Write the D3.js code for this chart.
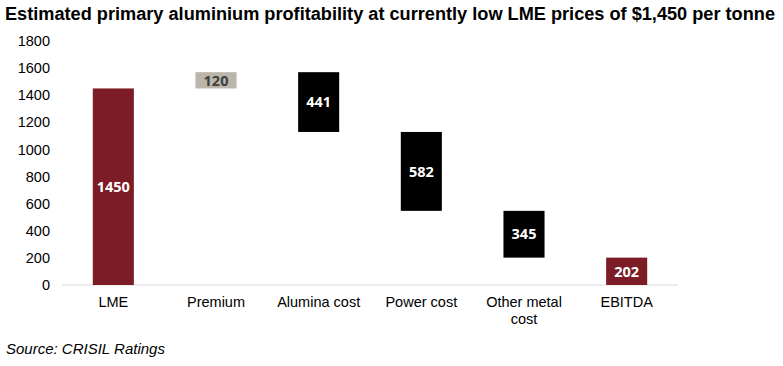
<!DOCTYPE html>
<html>
<head>
<meta charset="utf-8">
<script src="https://cdn.jsdelivr.net/npm/d3@7"></script>
<style>
  body { margin: 0; background: #fff; }
  text { font-family: "Liberation Sans", Arial, sans-serif; }
</style>
</head>
<body>
<div id="chart"></div>
<script>
// Waterfall data
const categories = ['LME', 'Premium', 'Alumina cost', 'Power cost', 'Other metal cost', 'EBITDA'];
const values = [1450, 120, 441, 582, 345, 202];
const kinds = ['total', 'up', 'down', 'down', 'down', 'total'];
const yTicks = [0, 200, 400, 600, 800, 1000, 1200, 1400, 1600, 1800];

const colors = { total: '#7b1c27', up: '#bcb5a9', down: '#000000' };
const labelColors = { total: '#ffffff', up: '#404040', down: '#ffffff' };

const width = 783;
const height = 366;

const svg = d3.select('#chart')
  .append('svg')
  .attr('width', width)
  .attr('height', height);

// running total for the floating bars
let running = 0;
const bars = categories.map((c, i) => {
  let lo, hi;
  if (kinds[i] === 'total') {
    lo = 0; hi = values[i]; running = values[i];
  } else if (kinds[i] === 'up') {
    lo = running; hi = running + values[i]; running = hi;
  } else {
    hi = running; lo = running - values[i]; running = lo;
  }
  return { category: c, value: values[i], kind: kinds[i], lo, hi };
});

const xScale = d3.scaleBand()
  .domain(categories)
  .range([62, 678])
  .paddingInner(0.6)
  .paddingOuter(0.3);

const yScale = d3.scaleLinear().domain([0, 1800]).range([285, 41]);

// title
svg.append('text')
  .attr('x', 5)
  .attr('y', 20)
  .attr('font-size', 18)
  .attr('font-weight', 'bold')
  .attr('fill', '#000')
  .attr('textLength', 770)
  .attr('lengthAdjust', 'spacingAndGlyphs')
  .text('Estimated primary aluminium profitability at currently low LME prices of $1,450 per tonne');

// y axis (labels only)
const yAxis = d3.axisLeft(yScale).tickValues(yTicks).tickFormat(d3.format('d')).tickSize(0).tickPadding(0);
const yAxisGroup = svg.append('g')
  .attr('transform', 'translate(50,0)')
  .call(yAxis);
yAxisGroup.select('.domain').remove();
yAxisGroup.selectAll('text')
  .attr('font-size', 14.5)
  .attr('fill', '#000')
  .style('font-family', '"Liberation Sans", Arial, sans-serif');

// baseline
svg.append('line')
  .attr('x1', 62).attr('x2', 678)
  .attr('y1', yScale(0)).attr('y2', yScale(0))
  .attr('stroke', '#d9d9d9')
  .attr('stroke-width', 1);

// bars
svg.selectAll('rect.bar')
  .data(bars)
  .enter()
  .append('rect')
  .attr('class', 'bar')
  .attr('x', (d) => xScale(d.category))
  .attr('width', xScale.bandwidth())
  .attr('y', (d) => yScale(d.hi))
  .attr('height', (d) => yScale(d.lo) - yScale(d.hi))
  .attr('fill', (d) => colors[d.kind]);

// value labels
svg.selectAll('text.value')
  .data(bars)
  .enter()
  .append('text')
  .attr('class', 'value')
  .attr('x', (d) => xScale(d.category) + xScale.bandwidth() / 2)
  .attr('y', (d) => (yScale(d.lo) + yScale(d.hi)) / 2)
  .attr('dy', '0.36em')
  .attr('text-anchor', 'middle')
  .attr('font-size', 14.5)
  .attr('font-weight', 'bold')
  .style('font-family', '"Open Sans", "DejaVu Sans", sans-serif')
  .attr('fill', (d) => labelColors[d.kind])
  .text((d) => d.value);

// category labels, wrapped
const xAxisGroup = svg.append('g');
categories.forEach((c) => {
  const lines = c === 'Other metal cost' ? ['Other metal', 'cost'] : [c];
  const t = xAxisGroup.append('text')
    .attr('x', xScale(c) + xScale.bandwidth() / 2)
    .attr('y', 307)
    .attr('text-anchor', 'middle')
    .attr('font-size', 14.5)
    .attr('fill', '#000');
  lines.forEach((l, j) => {
    t.append('tspan')
      .attr('x', xScale(c) + xScale.bandwidth() / 2)
      .attr('dy', j === 0 ? 0 : 17)
      .text(l);
  });
});

// source
svg.append('text')
  .attr('x', 6)
  .attr('y', 354)
  .attr('font-size', 15)
  .attr('font-style', 'italic')
  .attr('fill', '#000')
  .text('Source: CRISIL Ratings');
</script>
</body>
</html>
